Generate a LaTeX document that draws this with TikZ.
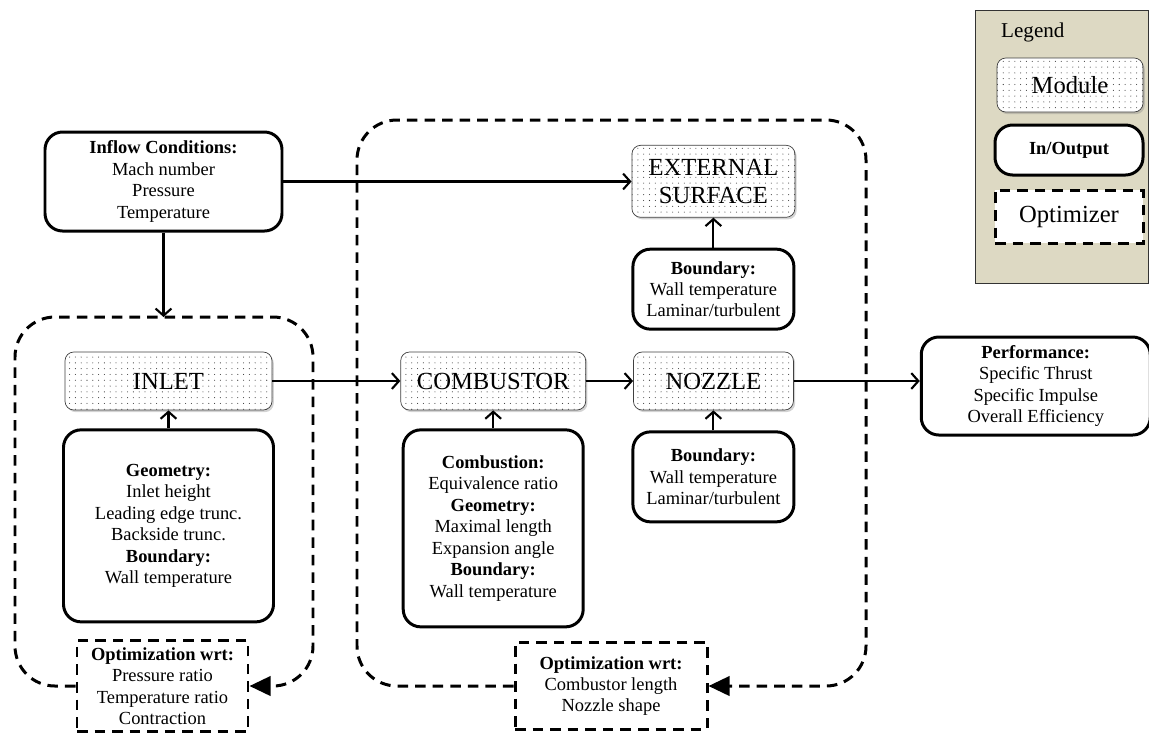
\documentclass[tikz,border=0pt]{standalone}
\usepackage{fontspec}
\setmainfont{Liberation Serif}
\usetikzlibrary{positioning,arrows.meta,patterns.meta,shadows}
\definecolor{legendtan}{RGB}{221,217,195}

\begin{document}
\begin{tikzpicture}[module/.style={rectangle,rounded corners=5pt,draw=black!75,fill=white,postaction={pattern={Dots[radius=0.3pt,distance=3.3pt]},pattern color=black!80},drop shadow={opacity=0.35,shadow xshift=1pt,shadow yshift=-1.2pt},font=\fontsize{14}{16}\selectfont,align=center,minimum height=1.16cm},
        inout/.style={rectangle,rounded corners=10pt,draw,line width=1.7pt,fill=white,font=\fontsize{10.5}{12.2}\selectfont,align=center},
        optbox/.style={rectangle,draw,line width=1.7pt,dash pattern=on 6pt off 4pt,fill=white,font=\fontsize{10.5}{12.2}\selectfont,align=center},
        flow/.style={-{Straight Barb[length=4pt,width=9pt]},line width=1.2pt},
        optloop/.style={line width=1.7pt,dash pattern=on 6pt off 4pt,rounded corners=0.8cm,-{Triangle[length=12pt,width=11pt]}}]
            \useasboundingbox (0,0) rectangle (22.98,-14.68);

            \node[inout,minimum width=4.74cm,minimum height=1.98cm] (inflow) at (3.27,-3.63) {\textbf{Inflow Conditions:}\\Mach number\\Pressure\\Temperature};
            \node[module,minimum width=4.14cm] (inlet) at (3.37,-7.62) {INLET};
            \node[module,minimum width=3.7cm] (comb) [right=2.56cm of inlet] {COMBUSTOR};
            \node[module,minimum width=3.2cm] (nozzle) [right=0.94cm of comb] {NOZZLE};
            \node[module,minimum width=3.26cm,minimum height=1.44cm] (ext) [above=2.68cm of nozzle] {EXTERNAL\\SURFACE};
            \node[inout,minimum width=3.22cm,minimum height=1.6cm] (extbnd) [below=0.6cm of ext] {\textbf{Boundary:}\\Wall temperature\\Laminar/turbulent};
            \node[inout,minimum width=4.2cm,minimum height=3.84cm] (inletgeo) [below=0.36cm of inlet] {\textbf{Geometry:}\\Inlet height\\Leading edge trunc.\\Backside trunc.\\\textbf{Boundary:}\\Wall temperature};
            \node[inout,minimum width=3.6cm,minimum height=3.94cm] (combin) [below=0.36cm of comb] {\textbf{Combustion:}\\Equivalence ratio\\\textbf{Geometry:}\\Maximal length\\Expansion angle\\\textbf{Boundary:}\\Wall temperature};
            \node[inout,minimum width=3.22cm,minimum height=1.8cm] (nozbnd) [below=0.4cm of nozzle] {\textbf{Boundary:}\\Wall temperature\\Laminar/turbulent};
            \node[inout,minimum width=4.58cm,minimum height=1.96cm] (perf) [right=2.52cm of nozzle,yshift=-0.1cm] {\textbf{Performance:}\\Specific Thrust\\Specific Impulse\\Overall Efficiency};
            \node[optbox,minimum width=3.42cm,minimum height=1.82cm] (opt1) at (3.25,-13.72) {\textbf{Optimization wrt:}\\Pressure ratio\\Temperature ratio\\Contraction};
            \node[optbox,minimum width=3.84cm,minimum height=1.74cm] (opt2) at (12.22,-13.72) {\textbf{Optimization wrt:}\\Combustor length\\Nozzle shape};
            \coordinate (loopin) at (inflow.south |- 0,-6.34);

            \draw[flow] (inflow) -- (loopin);
            \draw[flow] (inflow.east) -- (inflow.east -| ext.west);
            \draw[flow] (inlet) -- (comb);
            \draw[flow] (comb) -- (nozzle);
            \draw[flow] (nozzle) -- (nozzle -| perf.west);
            \draw[flow] (extbnd) -- (ext);
            \draw[flow] (inletgeo) -- (inlet);
            \draw[flow] (combin) -- (comb);
            \draw[flow] (nozbnd) -- (nozzle);
            \draw[optloop] (opt1.west) -| (0.3,-6.34) -| (6.26,-13.72) -- (opt1.east);
            \draw[optloop] (opt2.west) -| (7.14,-2.4) -| (17.32,-13.72) -- (opt2.east);

            \draw[fill=legendtan,draw=black!80] (19.5,-0.2) rectangle (22.96,-5.66);
            \node[anchor=west,font=\fontsize{12}{14}\selectfont] (legtitle) at (19.9,-0.64) {Legend};
            \node[module,minimum width=2.92cm,minimum height=1.08cm] (legmod) at (21.4,-1.7) {Module};
            \node[inout,minimum width=2.96cm,minimum height=1.0cm] (legio) at (21.38,-3.0) {\textbf{In/Output}};
            \node[optbox,minimum width=2.96cm,minimum height=1.06cm,font=\fontsize{14}{16}\selectfont] (legopt) at (21.38,-4.33) {Optimizer};
        \end{tikzpicture}
\end{document}
